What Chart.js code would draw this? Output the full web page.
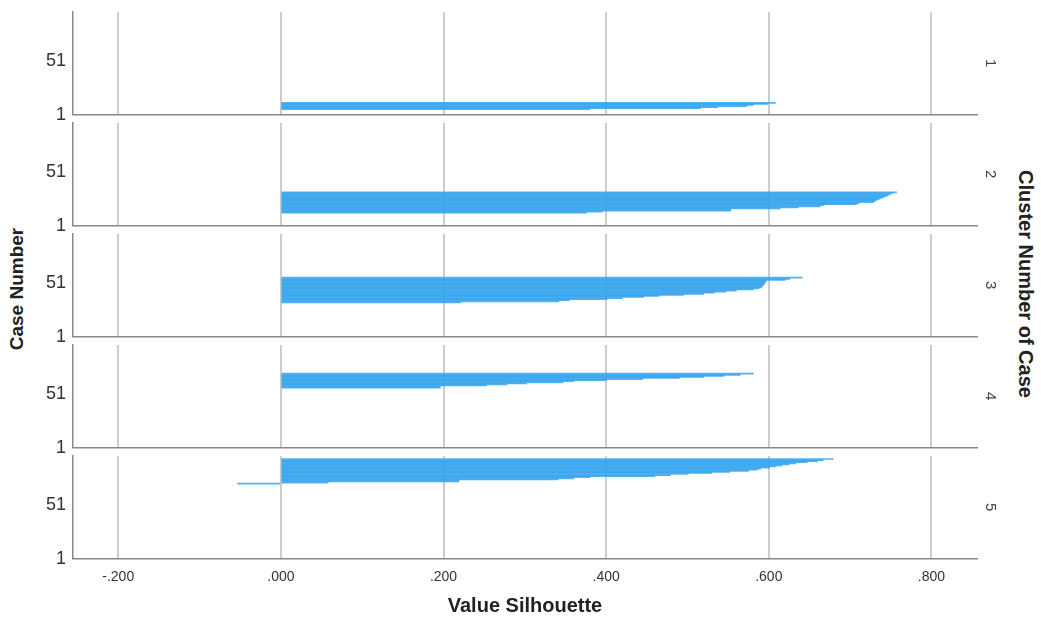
<!DOCTYPE html>
<html>
<head>
<meta charset="utf-8">
<script src="https://cdn.jsdelivr.net/npm/chart.js@4.4.1/dist/chart.umd.min.js"></script>
<style>
  html, body { margin: 0; padding: 0; background: #fff; }
  #wrap { position: relative; width: 1041px; height: 619px; overflow: hidden;
          font-family: "Liberation Sans", Arial, sans-serif; }
  .panel { position: absolute; left: 0; width: 1041px; }
  .vt { position: absolute; font-weight: bold; color: #222;
        white-space: nowrap; transform-origin: center center; }
  #yTitle { left: 17px; top: 289px; font-size: 19px; transform: translate(-50%, -50%) rotate(-90deg); }
  #rTitle { left: 1025px; top: 284px; font-size: 20px; transform: translate(-50%, -50%) rotate(90deg); }
</style>
</head>
<body>
<div id="wrap">
  <div class="vt" id="yTitle">Case Number</div>
  <div class="vt" id="rTitle">Cluster Number of Case</div>
</div>
<script>
// Cluster labels and the case number where each cluster's sorted cases begin
const CLUSTERS = ['1', '2', '3', '4', '5'];
const FIRST_CASE = [4, 11, 31, 55, 69];

// Silhouette values per cluster, sorted ascending (lowest case number first)
const SIL_1 = [0.380, 0.516, 0.537, 0.573, 0.581, 0.598, 0.608];
const SIL_2 = [0.376, 0.395, 0.553, 0.553, 0.614, 0.636, 0.663, 0.668, 0.708, 0.711,
               0.729, 0.731, 0.733, 0.736, 0.740, 0.743, 0.746, 0.749, 0.752, 0.757];
const SIL_3 = [0.221, 0.342, 0.355, 0.401, 0.420, 0.446, 0.465, 0.495, 0.520, 0.533,
               0.547, 0.560, 0.581, 0.588, 0.591, 0.592, 0.593, 0.594, 0.595, 0.596,
               0.597, 0.620, 0.626, 0.641];
const SIL_4 = [0.196, 0.196, 0.253, 0.278, 0.302, 0.347, 0.360, 0.400, 0.445, 0.490,
               0.520, 0.545, 0.565, 0.581];
const SIL_5 = [-0.053, 0.058, 0.219, 0.219, 0.341, 0.360, 0.380, 0.460, 0.479, 0.501,
               0.530, 0.552, 0.575, 0.586, 0.590, 0.601, 0.608, 0.616, 0.625, 0.633,
               0.647, 0.660, 0.667, 0.679];
const SILHOUETTE = [SIL_1, SIL_2, SIL_3, SIL_4, SIL_5];

// Axis ticks
const Y_TICKS = [1, 51];
const X_TICKS = [-0.2, 0, 0.2, 0.4, 0.6, 0.8];
const X_TICK_LABELS = ['-.200', '.000', '.200', '.400', '.600', '.800'];

const FONT = '"Liberation Sans", Arial, sans-serif';
const BAR_COLOR = 'rgba(50,162,237,0.84)';
const GRID_COLOR = '#cdcdcd';
const AXIS_COLOR = '#888888';
const PANEL_STEP = 111;
const PLOT_BOTTOM = 114.5;

const wrap = document.getElementById('wrap');

function noEdgePadding(s) {
  s.paddingTop = 0; s.paddingBottom = 0; s.paddingLeft = 0; s.paddingRight = 0;
}

function buildPanel(i) {
  const last = i === CLUSTERS.length - 1;
  const canvasHeight = last ? 175 : 126;
  const holder = document.createElement('div');
  holder.className = 'panel';
  holder.style.top = (PANEL_STEP * i) + 'px';
  holder.style.height = canvasHeight + 'px';
  const canvas = document.createElement('canvas');
  holder.appendChild(canvas);
  wrap.appendChild(holder);

  const points = SILHOUETTE[i].map((v, k) => ({ x: v, y: FIRST_CASE[i] + k }));

  new Chart(canvas, {
    type: 'bar',
    data: {
      datasets: [{
        data: points,
        backgroundColor: BAR_COLOR,
        borderWidth: 0,
        categoryPercentage: 1,
        barPercentage: 1
      }]
    },
    options: {
      indexAxis: 'y',
      responsive: true,
      maintainAspectRatio: false,
      animation: false,
      events: [],
      layout: { padding: { top: 12, left: 0, right: 0, bottom: 0 } },
      plugins: { legend: { display: false }, tooltip: { enabled: false } },
      scales: {
        x: {
          type: 'linear',
          min: -0.2556,
          max: 0.856,
          offset: false,
          afterBuildTicks: s => { s.ticks = X_TICKS.map(v => ({ value: v })); },
          afterFit: s => { noEdgePadding(s); s.height = canvasHeight - PLOT_BOTTOM; },
          grid: { color: GRID_COLOR, lineWidth: 2, drawTicks: false },
          border: { display: true, color: AXIS_COLOR, width: 1.5 },
          ticks: {
            display: last,
            padding: 10,
            color: '#333',
            font: { family: FONT, size: 14 },
            maxRotation: 0,
            callback: (v) => X_TICK_LABELS[X_TICKS.findIndex(t => Math.abs(t - v) < 1e-9)]
          },
          title: {
            display: last,
            text: 'Value Silhouette',
            color: '#222',
            font: { family: FONT, size: 20, weight: 'bold' },
            padding: { top: 0, bottom: 1 }
          }
        },
        y: {
          type: 'linear',
          position: 'left',
          min: -0.9,
          max: 94.8,
          offset: false,
          grid: { display: false, drawTicks: false, offset: false },
          afterBuildTicks: s => { s.ticks = Y_TICKS.map(v => ({ value: v })); },
          afterFit: s => { noEdgePadding(s); s.width = 73; },
          border: { display: true, color: AXIS_COLOR, width: 1.5 },
          ticks: {
            padding: 7,
            labelOffset: 2.5,
            color: '#333',
            font: { family: FONT, size: 18 },
            callback: v => String(v)
          }
        },
        cluster: {
          type: 'linear',
          position: 'right',
          afterFit: s => { noEdgePadding(s); s.width = 64; },
          grid: { display: false, drawTicks: false },
          border: { display: false },
          ticks: { display: false },
          title: {
            display: true,
            text: CLUSTERS[i],
            color: '#444',
            font: { family: FONT, size: 15 },
            padding: { top: 42, bottom: 0 }
          }
        }
      }
    }
  });
}

CLUSTERS.forEach((_, i) => buildPanel(i));
</script>
</body>
</html>
